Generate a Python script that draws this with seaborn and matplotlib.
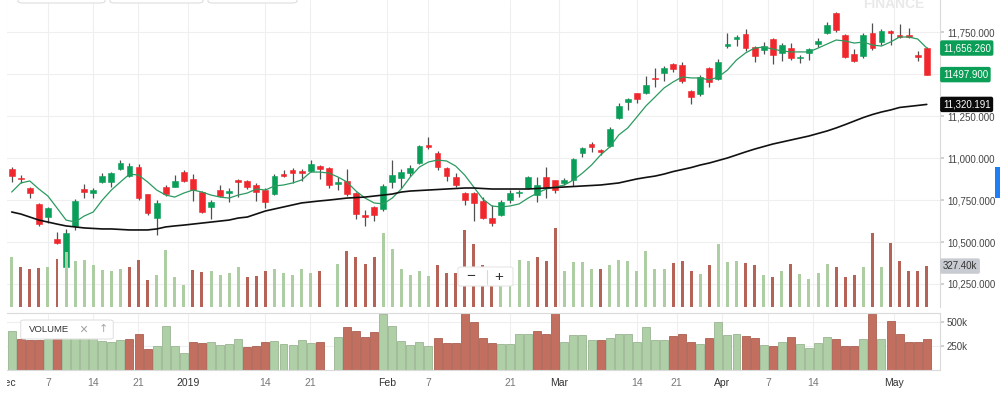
import numpy as np
import pandas as pd
import matplotlib
matplotlib.use("Agg")
import matplotlib.pyplot as plt
import matplotlib.ticker as mticker
import matplotlib.transforms as mtransforms
from matplotlib.patches import Rectangle, FancyBboxPatch
from matplotlib.lines import Line2D
import seaborn as sns

# 일봉 데이터 (화면에서 읽은 값)
open_ = [10935, 10884, 10824, 10727, 10649, 10518, 10351, 10596, 10816, 10792,
         10858, 10858, 10935, 10893, 10947, 10786, 10643, 10828, 10828, 10917,
         10876, 10798, 10709, 10810, 10792, 10870, 10864, 10840, 10810, 10786,
         10905, 10929, 10923, 10923, 10953, 10941, 10846, 10864, 10792, 10661,
         10709, 10697, 10858, 10882, 10911, 10971, 11078, 11031, 10941, 10888,
         10792, 10792, 10745, 10643, 10661, 10750, 10792, 10822, 10780, 10888,
         10868, 10852, 10870, 11031, 11084, 11048, 11072, 11239, 11335, 11388,
         11388, 11478, 11507, 11561, 11555, 11400, 11382, 11537, 11472, 11668,
         11710, 11740, 11662, 11645, 11710, 11627, 11656, 11597, 11627, 11680,
         11746, 11865, 11734, 11621, 11609, 11746, 11692, 11758, 11734, 11734,
         11615, 11656]
high = [10947, 10899, 10830, 10733, 10709, 10560, 10578, 10756, 10846, 10822,
        10911, 10917, 10989, 10971, 10965, 10788, 10750, 10840, 10899, 10929,
        10905, 10804, 10750, 10840, 10822, 10876, 10870, 10852, 10822, 10905,
        10929, 10941, 10935, 10989, 10959, 10947, 10888, 10935, 10798, 10691,
        10715, 10846, 10989, 10935, 10959, 11078, 11126, 11043, 10947, 10911,
        10798, 10798, 10768, 10721, 10750, 10810, 10810, 10893, 10888, 10947,
        10870, 10882, 11001, 11066, 11096, 11054, 11186, 11329, 11358, 11390,
        11490, 11537, 11549, 11567, 11573, 11406, 11496, 11543, 11591, 11746,
        11734, 11770, 11668, 11692, 11716, 11686, 11686, 11615, 11656, 11716,
        11811, 11871, 11740, 11650, 11746, 11805, 11770, 11764, 11799, 11776,
        11639, 11662]
low = [10858, 10852, 10762, 10596, 10613, 10488, 10345, 10572, 10762, 10762,
       10852, 10828, 10932, 10890, 10750, 10661, 10542, 10774, 10826, 10858,
       10745, 10673, 10637, 10768, 10739, 10768, 10816, 10745, 10703, 10783,
       10888, 10852, 10864, 10917, 10876, 10822, 10810, 10774, 10637, 10596,
       10625, 10685, 10822, 10822, 10893, 10968, 11054, 10929, 10864, 10828,
       10721, 10625, 10637, 10596, 10655, 10733, 10768, 10816, 10739, 10762,
       10792, 10840, 10834, 11007, 11037, 11019, 11066, 11233, 11287, 11329,
       11382, 11424, 11460, 11513, 11448, 11323, 11370, 11424, 11466, 11656,
       11668, 11639, 11573, 11621, 11561, 11579, 11585, 11567, 11585, 11662,
       11740, 11752, 11597, 11573, 11597, 11645, 11674, 11674, 11716, 11716,
       11579, 11496]
close = [10893, 10874, 10794, 10607, 10703, 10494, 10554, 10745, 10798, 10810,
         10893, 10911, 10971, 10953, 10762, 10673, 10733, 10786, 10864, 10864,
         10810, 10679, 10739, 10774, 10804, 10858, 10828, 10798, 10739, 10893,
         10893, 10911, 10911, 10965, 10935, 10840, 10858, 10786, 10667, 10649,
         10661, 10834, 10899, 10917, 10941, 11072, 11066, 10947, 10893, 10840,
         10750, 10733, 10643, 10613, 10739, 10792, 10798, 10888, 10840, 10828,
         10810, 10870, 10995, 11060, 11066, 11037, 11174, 11311, 11352, 11352,
         11436, 11472, 11537, 11531, 11460, 11364, 11484, 11454, 11573, 11680,
         11722, 11656, 11609, 11668, 11615, 11674, 11597, 11603, 11650, 11698,
         11793, 11764, 11603, 11579, 11734, 11656, 11758, 11746, 11722, 11722,
         11603, 11497.9]
ma_short = [10798, 10852, 10864, 10816, 10774, 10703, 10631, 10619, 10655, 10679,
            10750, 10810, 10858, 10905, 10899, 10858, 10810, 10780, 10768, 10792,
            10810, 10798, 10780, 10768, 10762, 10780, 10792, 10816, 10810, 10834,
            10840, 10852, 10870, 10917, 10917, 10911, 10888, 10858, 10804, 10762,
            10733, 10727, 10762, 10816, 10888, 10947, 10977, 10989, 10983, 10953,
            10899, 10828, 10756, 10715, 10709, 10715, 10727, 10762, 10792, 10816,
            10828, 10840, 10870, 10911, 10959, 11019, 11066, 11138, 11180, 11245,
            11311, 11364, 11418, 11454, 11484, 11478, 11478, 11466, 11484, 11525,
            11585, 11627, 11656, 11662, 11650, 11639, 11633, 11633, 11633, 11656,
            11680, 11704, 11698, 11686, 11692, 11674, 11668, 11692, 11722, 11722,
            11710, 11656.26]
ma_long = [10679, 10667, 10649, 10631, 10619, 10607, 10596, 10590, 10584, 10581,
           10578, 10578, 10575, 10572, 10572, 10572, 10578, 10590, 10596, 10601,
           10607, 10613, 10619, 10625, 10631, 10643, 10649, 10667, 10685, 10697,
           10709, 10721, 10733, 10739, 10745, 10750, 10756, 10762, 10765, 10768,
           10774, 10780, 10786, 10798, 10804, 10807, 10810, 10813, 10816, 10819,
           10822, 10822, 10819, 10816, 10816, 10816, 10816, 10816, 10819, 10822,
           10825, 10828, 10831, 10834, 10837, 10840, 10846, 10852, 10864, 10876,
           10885, 10893, 10905, 10920, 10932, 10944, 10959, 10971, 10986, 11001,
           11019, 11037, 11054, 11069, 11084, 11096, 11108, 11120, 11132, 11147,
           11162, 11180, 11200, 11221, 11242, 11260, 11275, 11287, 11302, 11308,
           11314, 11320.191]
# 거래량 (천 단위)
volume = [404, 322, 308, 315, 324, 384, 437, 365, 378, 338,
          297, 286, 308, 322, 379, 216, 254, 457, 244, 173,
          294, 280, 286, 258, 269, 322, 240, 251, 286, 304,
          272, 258, 308, 276, 286, 0, 344, 451, 404, 344,
          397, 590, 465, 301, 258, 286, 251, 333, 276, 276,
          615, 507, 333, 276, 272, 269, 379, 372, 404, 372,
          630, 290, 361, 361, 308, 308, 333, 379, 372, 286,
          447, 308, 308, 350, 372, 286, 265, 333, 507, 361,
          372, 350, 333, 258, 244, 286, 344, 265, 226, 276,
          344, 322, 244, 254, 318, 590, 318, 515, 372, 290,
          286, 327.4]
vol_dir = list("grrrgrgggg" "gggrrrgggg" "rrggggrrrg" "ggggrggrrr" "rggggggrrr"
               "rrrrggggrr" "rggggrgggg" "gggrrrgrgg" "grrgrgrggg" "grrrgrgrrr" "rr")

tick_labels = ['Dec', '7', '14', '21', '2019', '14', '21', 'Feb', '7', '21',
               'Mar', '14', '21', 'Apr', '7', '14', 'May']
tick_pos = [-0.62, 4.04, 8.97, 13.94, 19.51, 27.96, 32.93, 41.42, 45.95, 55.0,
            60.44, 68.98, 73.4, 78.43, 83.51, 88.41, 97.42]
price_ticks = [10250, 10500, 10750, 11000, 11250, 11500, 11750]

df = pd.DataFrame({'idx': np.arange(len(close)), 'open': open_, 'high': high,
                   'low': low, 'close': close, 'ma_short': ma_short,
                   'ma_long': ma_long, 'volume': volume, 'vol_dir': vol_dir})

sns.set_theme(style='white')
plt.rcParams['font.family'] = ['Liberation Sans', 'DejaVu Sans']
plt.rcParams['axes.unicode_minus'] = False

GREEN = '#0a9f59'
RED = '#f0272c'
GRID = '#efefef'
SPINE = '#dadada'

W, H = 1000, 395
fig = plt.figure(figsize=(W / 100, H / 100), dpi=100)
ax = fig.add_axes([0, 1 - 307 / H, 0.94, 307 / H])
vax = fig.add_axes([0, 1 - 369.5 / H, 0.94, 56.5 / H])
ovx = ax.twinx()

# 캔들
up = df['close'] >= df['open']
cols = np.where(up, GREEN, RED)
ax.vlines(df['idx'], df['low'], df['high'], color='#505050', lw=0.9, zorder=2)
body = (df['close'] - df['open']).abs().clip(lower=8)
mid = (df['close'] + df['open']) / 2
ax.bar(df['idx'], body, bottom=mid - body / 2, width=0.64, color=cols,
       edgecolor=cols, lw=0.4, zorder=3)

# 이동평균선
sns.lineplot(data=df, x='idx', y='ma_short', ax=ax, color='#2b9a60', lw=0.9, zorder=4)
sns.lineplot(data=df, x='idx', y='ma_long', ax=ax, color='#111111', lw=1.2, zorder=4)

# 메인 패널 거래량 오버레이
sns.barplot(data=df, x='idx', y='volume', hue='vol_dir', dodge=False,
            palette={'g': '#a9d59c', 'r': '#c45846'}, native_scale=True,
            width=0.33, errorbar=None, legend=False, linewidth=0, ax=ovx)

# 하단 거래량 패널
sns.barplot(data=df, x='idx', y='volume', hue='vol_dir', dodge=False,
            palette={'g': '#abd69f', 'r': '#d3634f'}, native_scale=True,
            width=0.88, errorbar=None, legend=False, linewidth=0.6, ax=vax)
for p in vax.patches:
    fc = p.get_facecolor()
    p.set_edgecolor(tuple(c * 0.88 for c in fc[:3]))

xlim = (-11.7 / 9.06, (940 - 11.7) / 9.06)
for a in (ax, ovx, vax):
    a.set_xlim(*xlim)
    a.set_xlabel('')
    a.set_ylabel('')

ax.set_ylim(10112.8, 11942.5)
ovx.set_ylim(0, 2456)
vax.set_ylim(0, 598)

# 축 / 눈금 (11,500 라벨은 현재가 상자에 가려지므로 비움)
ax.yaxis.tick_right()
ax.set_yticks(price_ticks)
ax.yaxis.set_major_formatter(
    mticker.FuncFormatter(lambda v, p: '' if abs(v - close[-1]) < 60 else f'{v:,.3f}'))
ax.set_xticks(tick_pos)
ax.tick_params(axis='x', length=0, labelbottom=False)
ax.tick_params(axis='y', length=3, color='#cccccc', pad=2, labelsize=7, labelcolor='#444444')
ax.grid(True, color=GRID, lw=0.8)
ax.set_axisbelow(True)
for s in ['top', 'left', 'bottom']:
    ax.spines[s].set_visible(False)
ax.spines['right'].set_color(SPINE)
ax.spines['right'].set_linewidth(0.8)

ovx.set_yticks([])
for s in ovx.spines.values():
    s.set_visible(False)

vax.yaxis.tick_right()
vax.set_yticks([250, 500])
vax.set_yticklabels(['250k', '500k'])
vax.set_xticks(tick_pos)
vax.set_xticklabels(tick_labels)
vax.tick_params(axis='y', length=3, color='#cccccc', pad=2, labelsize=7, labelcolor='#444444')
vax.tick_params(axis='x', length=3, color='#cccccc', pad=3, labelsize=7.5)
for lab in vax.get_xticklabels():
    lab.set_color('#333333' if not lab.get_text().isdigit() or lab.get_text() == '2019' else '#777777')
vax.grid(True, color=GRID, lw=0.8)
vax.set_axisbelow(True)
vax.spines['left'].set_visible(False)
for s in ['top', 'right', 'bottom']:
    vax.spines[s].set_color(SPINE)
    vax.spines[s].set_linewidth(0.8)

# 오른쪽 현재값 라벨
tr = mtransforms.blended_transform_factory(ax.transAxes, ax.transData)
ax.text(1.003, ma_short[-1], f'{ma_short[-1]:,.3f}', transform=tr, ha='left', va='center',
        fontsize=7, color='white',
        bbox=dict(boxstyle='round,pad=0.28,rounding_size=0.2', fc='#0b9e57', ec='none'))
ax.text(1.003, close[-1], f'{close[-1]:.3f}', transform=tr, ha='left', va='center',
        fontsize=7, color='white',
        bbox=dict(boxstyle='round,pad=0.28,rounding_size=0.2', fc='#0b9e57', ec='none'))
ax.text(1.003, ma_long[-1], f'{ma_long[-1]:,.3f}', transform=tr, ha='left', va='center',
        fontsize=7, color='white',
        bbox=dict(boxstyle='round,pad=0.28,rounding_size=0.2', fc='#0a0a0a', ec='none'))
trv = mtransforms.blended_transform_factory(ovx.transAxes, ovx.transData)
ovx.text(1.003, volume[-1], f'{volume[-1]:.2f}k', transform=trv, ha='left', va='center',
         fontsize=7, color='#333333',
         bbox=dict(boxstyle='round,pad=0.28,rounding_size=0.2', fc='#c8cbd1', ec='none'))

# 기타 화면 요소
fig.add_artist(Rectangle((0, 0), 7 / W, 1, transform=fig.transFigure,
                         fc='white', ec='none', zorder=10))
fig.add_artist(Rectangle((0.995, 1 - 198 / H), 0.005, 31 / H, transform=fig.transFigure,
                         fc='#1f7ef3', ec='none', zorder=10))
fig.text(0.894, 1 - 8 / H, 'FINANCE', ha='center', va='baseline', fontsize=10,
         fontweight='bold', color='#e9e9e9', zorder=1)
for x0, x1 in [(18, 105), (110, 203), (208, 297)]:
    fig.add_artist(FancyBboxPatch((x0 / W, 1 - 3 / H), (x1 - x0) / W, 0.05,
                                  boxstyle='round,pad=0,rounding_size=0.005',
                                  transform=fig.transFigure, fc='white', ec='#dedede',
                                  lw=0.8, zorder=11))

# VOLUME 범례 상자
fig.add_artist(FancyBboxPatch((20.7 / W, 1 - 339 / H), 92.6 / W, 19 / H,
                              boxstyle='round,pad=0,rounding_size=0.004',
                              transform=fig.transFigure, fc='white', ec='#e2e2e2',
                              lw=0.8, zorder=11))
fig.text(29 / W, 1 - 329.5 / H, 'VOLUME', ha='left', va='center', fontsize=6.8,
         color='#333333', zorder=12)
fig.text(83 / W, 1 - 329.5 / H, '\u00d7', ha='center', va='center', fontsize=10,
         color='#a0a0a0', zorder=12)
fig.text(103 / W, 1 - 329.5 / H, '\u2191', ha='center', va='center', fontsize=8,
         color='#a8a8a8', family=['DejaVu Sans'], zorder=12)

# 줌 컨트롤
fig.add_artist(FancyBboxPatch((458 / W, 1 - 286 / H), 55 / W, 19 / H,
                              boxstyle='round,pad=0,rounding_size=0.004',
                              transform=fig.transFigure, fc='white', ec='#e6e6e6',
                              lw=0.8, zorder=11))
fig.text(471 / W, 1 - 276.5 / H, '\u2212', ha='center', va='center', fontsize=11,
         color='#333333', zorder=12)
fig.text(499 / W, 1 - 276.5 / H, '+', ha='center', va='center', fontsize=11,
         color='#333333', zorder=12)
fig.add_artist(Line2D([487 / W, 487 / W], [1 - 284 / H, 1 - 270 / H],
                      transform=fig.transFigure, color='#d8d8d8', lw=0.8, zorder=12))

fig.savefig('out.png', dpi=100)
